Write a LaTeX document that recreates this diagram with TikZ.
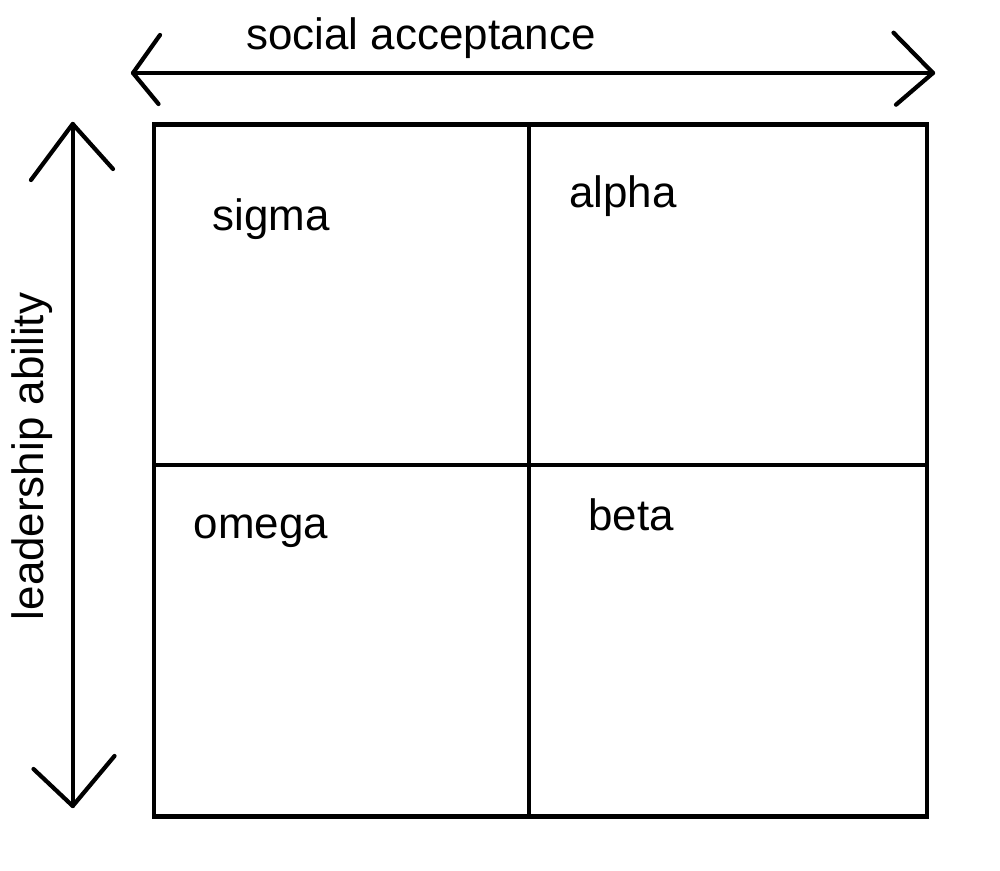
\documentclass[tikz,border=0pt]{standalone}
\usepackage{fontspec}
\setmainfont{Liberation Sans}
\usetikzlibrary{positioning}

\begin{document}
\begin{tikzpicture}[
    x=0.02cm, y=-0.02cm,
    frame/.style={line width=2.4pt, draw=black},
    axis/.style={line width=2.4pt, draw=black, line cap=round, line join=round},
    caption/.style={font=\fontsize{25}{30}\selectfont, inner sep=0pt, anchor=base}
]
\useasboundingbox (0,0) rectangle (1000,871);

% Quadrants
\draw[frame] (154,124.5) rectangle (927,816.5);
\coordinate (midtop) at (529,124.5);
\coordinate (midbot) at (529,816.5);
\coordinate (midleft) at (154,465);
\coordinate (midright) at (927,465);
\draw[frame] (midtop) -- (midbot);
\draw[frame] (midleft) -- (midright);

\node[caption] (sigma) at (271,231) {sigma};
\node[caption] (alpha) at (623,208) {alpha};
\node[caption] (omega) at (261,538) {omega};
\node[caption] (beta) at (631,530) {beta};

% Horizontal axis
\coordinate (accleft) at (133,73);
\coordinate (accright) at (933,73);
\draw[axis] (accleft) -- (accright);
\draw[axis] (accleft) ++(27,-38) -- (accleft) -- ++(25.5,31);
\draw[axis] (accright) ++(-39.5,-40.3) -- (accright) -- ++(-37,31.7);
\node[caption] (social) at (421,50) {social acceptance};

% Vertical axis
\coordinate (leadtop) at (72.7,124);
\coordinate (leadbot) at (72.7,806);
\draw[axis] (leadtop) -- (leadbot);
\draw[axis] (leadtop) ++(-41.7,56) -- (leadtop) -- ++(40.3,45);
\draw[axis] (leadbot) ++(-39.2,-37) -- (leadbot) -- ++(41.8,-50);
\node[caption, rotate=90] (leadership) at (43,456.5) {leadership ability};

\end{tikzpicture}
\end{document}
